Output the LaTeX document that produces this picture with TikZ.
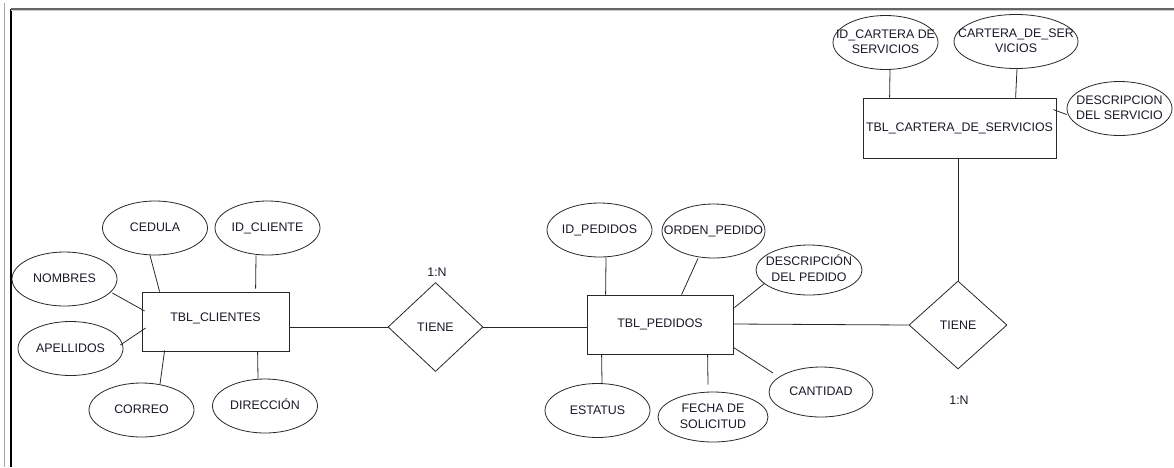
\documentclass[tikz,border=0pt]{standalone}
\usepackage{fontspec}
\setmainfont{Liberation Sans}
\usetikzlibrary{shapes.geometric}
\definecolor{ln}{RGB}{40,40,40}
\definecolor{tx}{RGB}{25,25,40}
\newcommand\zt[1]{\smash{\raisebox{-3.6pt}{\makebox[0pt]{\begin{tabular}{@{}c@{}}#1\end{tabular}}}}}
\tikzset{
  every node/.style={font=\fontsize{12.4}{15.5}\selectfont, text=tx},
  attr/.style={draw=ln, line width=0.8pt, ellipse, minimum width=105pt, minimum height=54pt, inner sep=0pt},
  entity/.style={draw=ln, line width=0.8pt, rectangle, minimum width=147pt, minimum height=59pt, inner sep=0pt},
  rel/.style={draw=ln, line width=0.8pt, diamond, minimum width=95pt, minimum height=89pt, inner sep=0pt},
  conn/.style={draw=ln, line width=0.8pt},
  card/.style={inner sep=0pt}
}
\begin{document}
\begin{tikzpicture}[x=1pt,y=-1pt]
\useasboundingbox (0,0) rectangle (1174,467);
% frame
\draw[gray!70, line width=1.6pt] (4.5,3) -- (4.5,467);
\draw[black, line width=1.2pt] (11,9) -- (11,467);
\draw[gray!80!black, line width=1.2pt] (11,9) -- (1174,9);
\draw[gray!40, line width=0.8pt] (11,10.5) -- (1174,10.5);

% ---- clientes
\node[entity] (cl) at (215.5,321.5) {\raisebox{8pt}{TBL\_CLIENTES}};
\node[attr] (cedula) at (155,228) {\zt{CEDULA}};
\node[attr] (idc) at (267.5,228) {\zt{ID\_CLIENTE}};
\node[attr] (nombres) at (64.5,279) {\zt{NOMBRES}};
\node[attr] (apellidos) at (70.5,348.5) {\zt{APELLIDOS}};
\node[attr] (correo) at (141.5,410) {\zt{CORREO}};
\node[attr] (direccion) at (265,406) {\zt{DIRECCIÓN}};

\draw[conn] ([xshift=-5pt]cedula.south) -- ([xshift=18pt]cl.north west);
\draw[conn] ([xshift=-11.5pt]idc.south) -- ([xshift=114pt,yshift=3pt]cl.north west);
\draw[conn] ([xshift=-5pt,yshift=-14pt]nombres.east) -- ([xshift=3pt,yshift=10.5pt]cl.west);
\draw[conn] ([xshift=-3pt,yshift=3.5pt]apellidos.east) -- ([xshift=4pt,yshift=-6.5pt]cl.west);
\draw[conn] ([xshift=18.5pt,yshift=-1.5pt]correo.north) -- ([xshift=23pt,yshift=1pt]cl.south west);
\draw[conn] ([xshift=-7pt]direccion.north) -- ([xshift=116pt]cl.south west);

% ---- relation 1
\node[rel] (t1) at (435.5,327) {TIENE};
\node[card] (n1) at (437,272) {1:N};
\draw[conn] ([yshift=-5.5pt]cl.east) -- (t1.west);

% ---- pedidos
\node[entity, minimum width=146pt] (pe) at (660,324.5) {TBL\_PEDIDOS};
\draw[conn] (t1.east) -- (t1.east -| pe.west);
\node[attr] (idp) at (599.5,230) {\zt{ID\_PEDIDOS}};
\node[attr, minimum width=103pt] (orden) at (713.5,231) {\zt{ORDEN\_PEDIDO}};
\node[attr, minimum width=106pt, minimum height=50pt] (descp) at (809,270) {\zt{DESCRIPCIÓN\\DEL PEDIDO}};
\node[attr] (estatus) at (597.5,410.5) {\zt{ESTATUS}};
\node[attr, minimum width=110pt, minimum height=50pt] (fecha) at (713,417) {\zt{FECHA DE\\SOLICITUD}};
\node[attr, minimum width=104pt, minimum height=50pt] (cantidad) at (821,392) {\zt{CANTIDAD}};

\draw[conn] ([xshift=6.5pt]idp.south) -- ([xshift=19pt]pe.north west);
\draw[conn] ([xshift=-15.5pt]orden.south) -- ([xshift=95pt]pe.north west);
\draw[conn] ([shift={(-44pt,-13pt)}]descp.center) -- ([xshift=1pt,yshift=-13pt]pe.north east);
\draw[conn] ([xshift=4.5pt]estatus.north) -- ([xshift=15pt]pe.south west);
\draw[conn] ([xshift=-5pt,yshift=7pt]fecha.north) -- ([xshift=121pt]pe.south west);
\draw[conn] ([shift={(-48pt,19pt)}]cantidad.center) -- ([yshift=7pt]pe.south east);

% ---- relation 2
\node[rel, minimum width=98pt, minimum height=88pt] (t2) at (958,325) {TIENE};
\node[card] (n2) at (959,400) {1:N};
\draw[conn] ([yshift=0.5pt]pe.east) -- (t2.west);

% ---- cartera
\node[entity, minimum width=193pt, minimum height=60pt] (cs) at (959.5,128) {TBL\_CARTERA\_DE\_SERVICIOS};
\node[attr] (idcs) at (885.5,42.5) {\zt{ID\_CARTERA DE\\SERVICIOS}};
\node[attr, minimum width=124pt] (carsv) at (1016,41.5) {\zt{CARTERA\_DE\_SER\\VICIOS}};
\node[attr] (descs) at (1119.5,108.5) {\zt{DESCRIPCION\\DEL SERVICIO}};

\draw[conn] ([xshift=4.5pt]idcs.south) -- ([xshift=27pt]cs.north west);
\draw[conn] ([xshift=1pt]carsv.south) -- ([xshift=153pt]cs.north west);
\draw[conn] ([yshift=-6pt]descs.west) -- ([yshift=-12pt,xshift=-3pt]cs.north east);
\draw[conn] ([xshift=-1.5pt]cs.south) -- (t2.north);
\end{tikzpicture}
\end{document}
